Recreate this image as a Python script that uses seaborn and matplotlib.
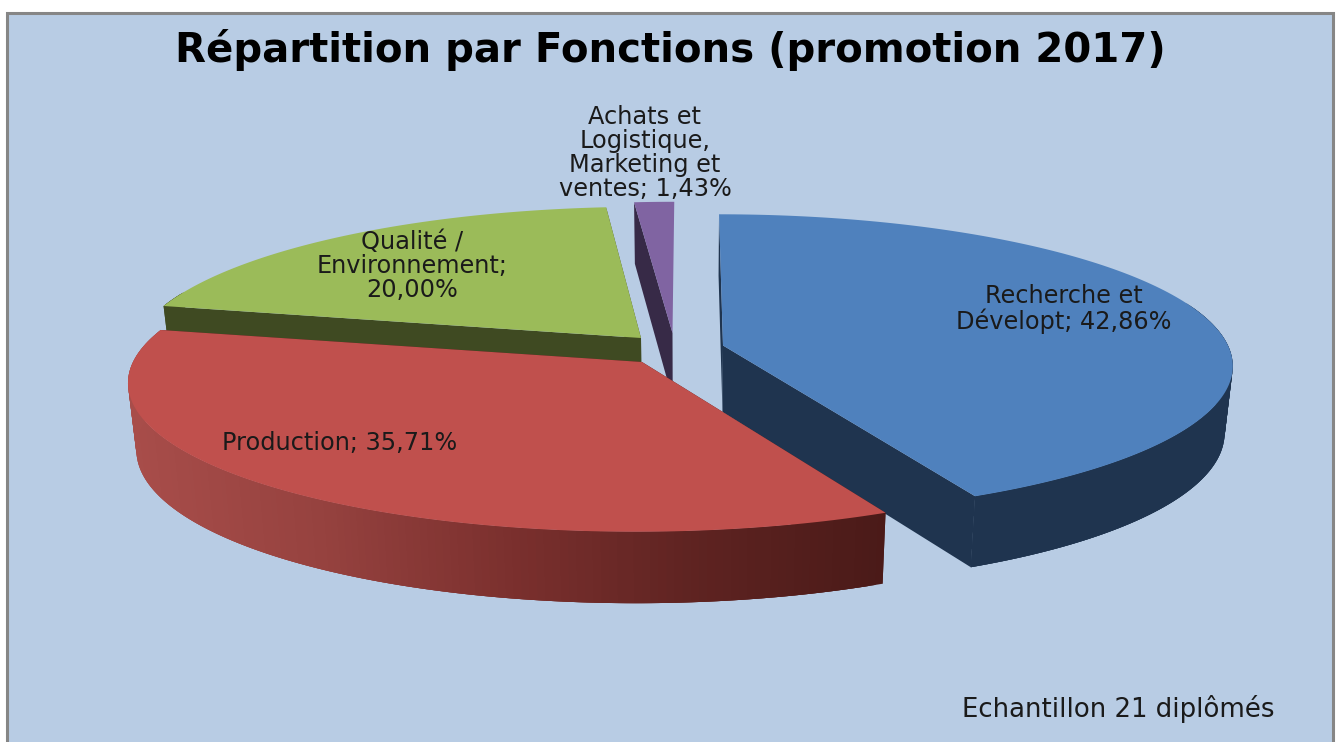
import numpy as np
import seaborn as sns
import matplotlib
matplotlib.use("Agg")
import matplotlib.pyplot as plt
from matplotlib.patches import Rectangle

# data
categories = ["Recherche et\nDévelopt", "Production", "Qualité /\nEnvironnement", "Achats et\nLogistique,\nMarketing et\nventes"]
values = [42.86, 35.71, 20.00, 1.43]
separators = ["; ", "; ", ";\n", "; "]
title = "Répartition par Fonctions (promotion 2017)"
note = "Echantillon 21 diplômés"

# styles
top_colors = ["#4F81BD", "#C0504D", "#9BBB59", "#8064A2"]
side_colors = ["#1F344F", "#4C1B19", "#3F4A22", "#372A47"]
red_rim = ["#A84D4A", "#96423F", "#7B302E", "#5E2321", "#4A1A18"]
apex = [(723, 345.5), (642, 362), (641, 338), (672.5, 333)]
radius_x = [505, 509, 505, 505]
label_pos = [(1064, 309), (340, 443), (412, 266), (645, 153)]
draw_order = [3, 2, 0, 1]

RY = 148
VX, PERSP, SHRINK = 688, 0.128, 0.985


def top_point(i, ang):
    # point of the top face at a clockwise angle from 12 o'clock
    u, v = np.sin(ang), np.cos(ang)
    s = 1 / (1 + PERSP * v)
    x = VX + (apex[i][0] + radius_x[i] * u - VX) * s
    y = apex[i][1] - RY * v * s
    return x, y


def low_point(i, ang):
    v = np.cos(ang)
    x, y = top_point(i, ang)
    return VX + (x - VX) * SHRINK, y + 66.5 - 5 * v


def apex_low(i):
    return VX + (apex[i][0] - VX) * SHRINK, apex[i][1] + 66.5


sns.set_theme(style="white")
plt.rcParams["font.family"] = ["DejaVu Sans"]

fig = plt.figure(figsize=(13.39, 7.42), dpi=100, facecolor="white")
ax = fig.add_axes([0, 0, 1, 1])
ax.set_xlim(0, 1339)
ax.set_ylim(742, 0)
ax.axis("off")
ax.add_patch(Rectangle((7, 13), 1326, 760, facecolor="#B8CCE4", edgecolor="#868686", lw=2.2))

edges = np.radians(np.concatenate([[0], np.cumsum(values) / np.sum(values) * 360]))

for i in draw_order:
    angs = np.linspace(edges[i], edges[i + 1], 160)
    top = np.array([top_point(i, a) for a in angs])
    low = np.array([low_point(i, a) for a in angs])
    side = side_colors[i]

    # radial faces (the end face of the small slice would only show as a sliver)
    for k in ((0,) if i == 3 else (0, -1)):
        face = [tuple(apex[i]), tuple(top[k]), tuple(low[k]), apex_low(i)]
        ax.fill(*zip(*face), color=side, lw=0, zorder=2)

    # outer rim, only the front part shows, red one has a gradient from left to right
    pal = sns.blend_palette(red_rim, 256)
    x0, x1 = top[:, 0].min(), top[:, 0].max()
    for j in range(len(angs) - 1):
        if np.cos(angs[j]) > 0.3:
            continue
        k = min(j + 3, len(angs) - 1)  # overlap so no seams show
        quad = np.array([top[j], top[k], low[k], low[j]])
        c = side
        if i == 1:
            c = pal[int(255 * (top[j:j + 2, 0].mean() - x0) / (x1 - x0))]
        ax.fill(quad[:, 0], quad[:, 1], color=c, lw=0, zorder=2)

    # top face
    poly = np.vstack([[apex[i]], top])
    ax.fill(poly[:, 0], poly[:, 1], color=top_colors[i], lw=0, zorder=2)

# labels
for name, val, sep, (x, y) in zip(categories, values, separators, label_pos):
    txt = f"{name}{sep}{val:.2f}%".replace(".", ",")
    ax.text(x, y, txt, ha="center", va="center", fontsize=17.3, color="#1a1a1a",
            linespacing=1.0, zorder=3)

ax.text(670, 50, title, ha="center", va="center", fontsize=29, fontweight="bold", color="black")
ax.text(1118, 709, note, ha="center", va="center", fontsize=18.7, color="#1a1a1a")

fig.savefig("out.png", dpi=100)
